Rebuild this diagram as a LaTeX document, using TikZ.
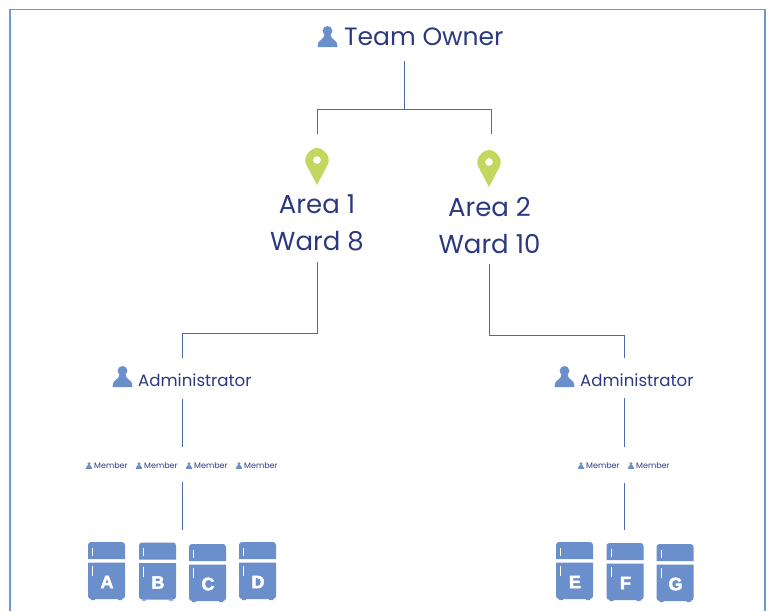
\documentclass[tikz,border=0pt]{standalone}
\usepackage{fontspec}
\setmainfont{Poppins}
\newfontfamily\fridgefont[FakeBold=2.5]{Liberation Sans}
\definecolor{framecol}{HTML}{6F97D2}
\definecolor{linecol}{HTML}{4B69AE}
\definecolor{iconcol}{HTML}{6A8FCB}
\definecolor{textcol}{HTML}{2B3A80}
\definecolor{pincol}{HTML}{C3D75F}
\tikzset{
  connector/.style={draw=linecol,line width=1pt},
  bigtext/.style={text=textcol,font=\fontsize{26}{30}\selectfont,inner sep=0pt},
  ownertext/.style={text=textcol,font=\fontsize{25}{30}\selectfont,inner sep=0pt,anchor=west},
  midtext/.style={text=textcol,font=\fontsize{16.6}{18}\selectfont,inner sep=0pt,anchor=west},
  smalltext/.style={text=textcol,font=\fontsize{8}{9}\selectfont,inner sep=0pt,anchor=west},
  pics/person/.style={code={
    \fill[iconcol] (0,-5.6) circle (4.9);
    \fill[iconcol] (-10,10.5) -- (-9.3,6.5) .. controls (-8.5,3.5) and (-3.5,3) .. (-3,-2)
      -- (3,-2) .. controls (3.5,3) and (8.5,3.5) .. (9.3,6.5) -- (10,10.5) -- cycle;
  }},
  pics/mappin/.style={code={
    \fill[pincol,even odd rule] (0,37) -- (-10.5,17) .. controls (-15,9) and (-6.5,0) .. (0,0)
      .. controls (6.5,0) and (15,9) .. (10.5,17) -- cycle
      (0,12) circle (4);
  }},
  pics/fridge/.style={code={
    \fill[iconcol] (0,17) -- (0,3) arc (180:270:3) -- (34,0) arc (270:360:3) -- (37,17) -- cycle;
    \fill[iconcol] (0,20.5) -- (37,20.5) -- (37,54) arc (0:90:3) -- (3,57) arc (90:180:3) -- cycle;
    \fill[iconcol] (3,57) rectangle (7,58) (30,57) rectangle (34,58);
    \draw[white,line width=0.9pt] (4.5,5.5) -- (4.5,13.5) (4.5,24) -- (4.5,34);
    \node (fridge#1) at (19,40) [text=white,inner sep=0pt,font=\fridgefont\bfseries\fontsize{18}{20}\selectfont] {#1};
  }}
}
\begin{document}
\begin{tikzpicture}[x=1pt,y=-1pt]
\useasboundingbox (0,0) rectangle (773,611);
% frame
\draw[framecol,line width=1.2pt] (10,611) -- (10,9.5) -- (765,9.5) -- (765,611);

% owner
\pic at (327.5,36.5) {person};
\node (owner) at (344,37) [ownertext] {Team Owner};
\coordinate (ownerout) at (404,61);
\coordinate (fork) at (404,109);
\coordinate (forkleft) at (317,109);
\coordinate (forkright) at (491,109);
\coordinate (pinone) at (317,134);
\coordinate (pintwo) at (491,134);

% areas
\pic at (317,148) {mappin};
\pic at (489,150) {mappin};
\node (area1) at (317,204) [bigtext] {Area 1};
\node (ward1) at (317,241) [bigtext,minimum height=42pt] {Ward 8};
\node (area2) at (489.5,207) [bigtext] {Area 2};
\node (ward2) at (489.5,244) [bigtext,minimum height=40pt] {Ward 10};

% administrators
\coordinate (bendone) at (317,333);
\coordinate (bendonetop) at (182,333);
\coordinate (adminonein) at (182,358);
\coordinate (adminoneout) at (182,399);
\coordinate (memberonein) at (182,447);
\coordinate (memberoneout) at (182,482);
\coordinate (fridgeonein) at (182,530);
\coordinate (bendtwo) at (489.5,335);
\coordinate (bendtwotop) at (624,335);
\coordinate (admintwoin) at (624,358);
\coordinate (admintwoout) at (624,398);
\coordinate (membertwoin) at (624,447);
\coordinate (membertwoout) at (624,483);
\coordinate (fridgetwoin) at (624,530);
\pic at (122.5,376.5) {person};
\node (admin1) at (138,380.5) [midtext] {Administrator};
\pic at (564.5,376.5) {person};
\node (admin2) at (580,380.5) [midtext] {Administrator};

% members
\foreach \name/\x in {a/89,b/139,c/189,d/239,e/581,f/631}{
  \pic at (\x,465.5) [scale=0.32] {person};
  \node (member\name) at (\x+5,465.5) [smalltext] {Member};
}

% fridges
\foreach \name/\x/\y in {A/88/542,B/139/542.5,C/189/544,D/239/542,E/556/542,F/606.5/543,G/656.5/544}{
  \pic at (\x,\y) {fridge=\name};
}

% connectors
\draw[connector] (ownerout) -- (fork);
\draw[connector] (pinone) -- (forkleft) -- (forkright) -- (pintwo);
\draw[connector] (ward1.south) -- (bendone) -- (bendonetop) -- (adminonein);
\draw[connector] (ward2.south) -- (bendtwo) -- (bendtwotop) -- (admintwoin);
\draw[connector] (adminoneout) -- (memberonein);
\draw[connector] (memberoneout) -- (fridgeonein);
\draw[connector] (admintwoout) -- (membertwoin);
\draw[connector] (membertwoout) -- (fridgetwoin);
\end{tikzpicture}
\end{document}
